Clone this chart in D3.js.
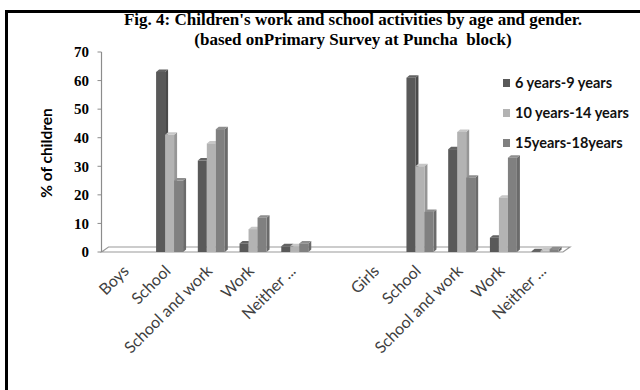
<!DOCTYPE html>
<html>
<head>
  <meta charset="utf-8">
  <title>Fig. 4</title>
  <script src="https://d3js.org/d3.v7.min.js"></script>
  <style>
    body { margin: 0; background: #fff; }
    .title { font-family: 'Liberation Serif', serif; font-weight: bold; font-size: 17px; fill: #000; }
    .ytick { font-family: 'Liberation Serif', serif; font-weight: bold; font-size: 15px; fill: #000; }
    .xlab { font-family: Lato, sans-serif; font-size: 16px; fill: #404040; }
    .legend text { font-family: Lato, sans-serif; font-weight: bold; font-size: 14.5px; fill: #111; }
    .ylabel { font-family: Lato, sans-serif; font-weight: bold; font-size: 15.5px; fill: #000; }
  </style>
</head>
<body>
  <div id="chart"></div>
  <script>
    // categories (blank slot between the boys and girls groups)
    var categories = ["Boys", "School", "School and work", "Work", "Neither ...", "",
      "Girls", "School", "School and work", "Work", "Neither ..."];

    var seriesNames = ["6 years-9 years", "10 years-14 years", "15years-18years"];
    var age6to9   = [null, 63, 32, 3, 2, null, null, 61, 36, 5, 0.3];
    var age10to14 = [null, 41, 38, 8, 2, null, null, 30, 42, 19, 0.5];
    var age15to18 = [null, 25, 43, 12, 3, null, null, 14, 26, 33, 1];
    var yTicks = [0, 10, 20, 30, 40, 50, 60, 70];

    var colors = ["#595959", "#b3b3b3", "#808080"];
    var series = [age6to9, age10to14, age15to18];

    var width = 640, height = 390;
    var depth = { dx: 7, dy: 5 };   // floor depth
    var bd = { dx: 3, dy: 2.5 };   // bar depth

    var svg = d3.select("#chart").append("svg")
      .attr("width", width)
      .attr("height", height);

    // frame
    svg.append("rect")
      .attr("x", 6.5).attr("y", 11.5)
      .attr("width", 700).attr("height", 500)
      .attr("fill", "#fff")
      .attr("stroke", "#000")
      .attr("stroke-width", 3);

    // titles
    svg.append("text").attr("class", "title")
      .attr("x", 353).attr("y", 25).attr("text-anchor", "middle")
      .text("Fig. 4: Children's work and school activities by age and gender.");
    svg.append("text").attr("class", "title")
      .attr("x", 353).attr("y", 45).attr("text-anchor", "middle")
      .text("(based onPrimary Survey at Puncha  block)")
      .style("white-space", "pre");

    var x = d3.scaleBand()
      .domain(d3.range(categories.length))
      .range([107, 566]);

    var xs = d3.scaleBand()
      .domain(d3.range(series.length))
      .range([0, 27]);

    var y = d3.scaleLinear()
      .domain([0, 70])
      .range([252, 52]);

    var x0 = 101.5, x1 = 563;

    // floor
    svg.append("path")
      .attr("d", "M" + x0 + "," + y(0) +
        "L" + (x0 + depth.dx) + "," + (y(0) - depth.dy) +
        "L" + (x1 + depth.dx) + "," + (y(0) - depth.dy) +
        "L" + x1 + "," + y(0) + "Z")
      .attr("fill", "#fff")
      .attr("stroke", "#9a9a9a")
      .attr("stroke-width", 1.2);

    // y axis line + ticks
    svg.append("line")
      .attr("x1", x0).attr("x2", x0)
      .attr("y1", y(70)).attr("y2", y(0))
      .attr("stroke", "#8c8c8c").attr("stroke-width", 1.2);

    svg.selectAll(".tickmark")
      .data(yTicks)
      .enter().append("line")
      .attr("x1", x0 - 4).attr("x2", x0)
      .attr("y1", function(d) { return y(d); })
      .attr("y2", function(d) { return y(d); })
      .attr("stroke", "#8c8c8c");

    svg.selectAll(".ytick")
      .data(yTicks)
      .enter().append("text")
      .attr("class", "ytick")
      .attr("x", 89)
      .attr("y", function(d) { return y(d); })
      .attr("dy", "0.35em")
      .attr("text-anchor", "end")
      .text(function(d) { return d; });

    svg.append("text").attr("class", "ylabel")
      .attr("transform", "translate(52,153) rotate(-90)")
      .attr("text-anchor", "middle")
      .text("% of children");

    // 3D-look bars
    series.forEach(function(vals, si) {
      var c = d3.color(colors[si]);
      var side = c.darker(0.5).toString();
      var top = c.brighter(0.3).toString();
      var g = svg.append("g");
      vals.forEach(function(v, ci) {
        if (v == null) return;
        var bx = x(ci) + x.bandwidth() / 2 - 13.5 + xs(si);
        var w = xs.bandwidth();
        var by = y(v), base = y(0);
        g.append("path")
          .attr("d", "M" + (bx + w) + "," + by +
            "L" + (bx + w + bd.dx) + "," + (by - bd.dy) +
            "L" + (bx + w + bd.dx) + "," + (base - bd.dy) +
            "L" + (bx + w) + "," + base + "Z")
          .attr("fill", side);
        g.append("path")
          .attr("d", "M" + bx + "," + by +
            "L" + (bx + bd.dx) + "," + (by - bd.dy) +
            "L" + (bx + w + bd.dx) + "," + (by - bd.dy) +
            "L" + (bx + w) + "," + by + "Z")
          .attr("fill", top);
        g.append("rect")
          .attr("x", bx).attr("y", by)
          .attr("width", w).attr("height", base - by)
          .attr("fill", colors[si]);
      });
    });

    // category labels
    svg.selectAll(".xlab")
      .data(categories)
      .enter().append("text")
      .attr("class", "xlab")
      .attr("text-anchor", "end")
      .attr("transform", function(d, i) {
        return "translate(" + (x(i) + x.bandwidth() / 2 + 2) + ",272) rotate(-45)";
      })
      .text(function(d) { return d; });

    // legend
    var legend = svg.append("g").attr("class", "legend");
    var li = legend.selectAll("g")
      .data(seriesNames)
      .enter().append("g")
      .attr("transform", function(d, i) { return "translate(503," + (83 + i * 30) + ")"; });
    li.append("rect")
      .attr("x", 0).attr("y", -4)
      .attr("width", 7).attr("height", 8)
      .attr("fill", function(d, i) { return colors[i]; });
    li.append("text")
      .attr("x", 12).attr("dy", "0.35em")
      .text(function(d) { return d; });
  </script>
</body>
</html>
